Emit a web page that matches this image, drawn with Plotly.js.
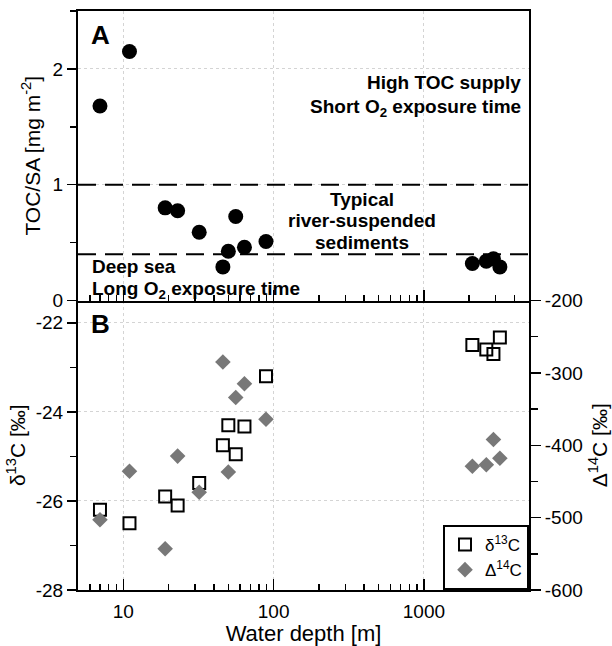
<!DOCTYPE html>
<html>
<head>
<meta charset="utf-8">
<script src="https://cdn.plot.ly/plotly-3.0.1.min.js"></script>
<style>html,body{margin:0;padding:0;background:#fff;}#chart{width:612px;height:646px;}</style>
</head>
<body>
<div id="chart"></div>
<script>
// Water depth [m] for each station
const depth = [7, 11, 19, 23, 32, 46, 50, 56, 64, 89, 2100, 2600, 2900, 3200];
// Panel A: TOC/SA [mg m-2]
const tocSA = [1.68, 2.15, 0.80, 0.775, 0.59, 0.29, 0.425, 0.725, 0.46, 0.51, 0.32, 0.34, 0.36, 0.29];
// Panel B: δ13C [‰] (left axis)
const d13C = [-26.2, -26.5, -25.9, -26.1, -25.6, -24.75, -24.3, -24.95, -24.33, -23.2, -22.5, -22.6, -22.7, -22.33];
// Panel B: Δ14C [‰] (right axis)
const D14C = [-503, -436, -543, -415, -465, -285, -437, -334, -315, -364, -429, -427, -392, -418];
// Reference TOC/SA levels (dashed lines)
const tocLevels = [1, 0.4];
// Tick labels
const xTickVals = [10, 100, 1000];
const xTickText = ['10', '100', '1000'];
const d13TickVals = [-28, -26, -24, -22];
const d13TickText = ['-28', '-26', '-24', '-22'];
const D14TickVals = [-600, -500, -400, -300, -200];
const D14TickText = ['-600', '-500', '-400', '-300', '-200'];
const decades = [1, 10, 100, 1000];
const digits = [2, 3, 4, 5, 6, 7, 8, 9];
const xMinor = [];
decades.forEach(d => digits.forEach(k => { const v = d * k; if (v > 5 && v < 5000 && v !== 10) xMinor.push(v); }));

const FONT = 'Liberation Sans, Arial, sans-serif';
const GRID = '#d4d4d4';

const traces = [
  { x: depth, y: tocSA, xaxis: 'x2', yaxis: 'y2', type: 'scatter', mode: 'markers',
    marker: { symbol: 'circle', size: 15, color: '#000' }, showlegend: false, cliponaxis: false },
  { x: depth, y: d13C, xaxis: 'x', yaxis: 'y', type: 'scatter', mode: 'markers', name: 'δ<sup>13</sup>C',
    marker: { symbol: 'square-open', size: 12, color: '#000', line: { width: 2, color: '#000' } } },
  { x: depth, y: D14C, xaxis: 'x', yaxis: 'y3', type: 'scatter', mode: 'markers', name: 'Δ<sup>14</sup>C',
    marker: { symbol: 'diamond', size: 12, color: '#787878' } }
];

const axisCommon = {
  showline: true, linecolor: '#000', linewidth: 2, tickcolor: '#000', tickwidth: 1.5,
  tickfont: { family: FONT, size: 19, color: '#000' }, zeroline: false
};
const xCommon = Object.assign({}, axisCommon, {
  type: 'log', range: [Math.log10(5), Math.log10(5000)],
  tickmode: 'array', tickvals: xTickVals, ticktext: xTickText,
  ticks: 'inside', ticklen: 11, showgrid: true, gridcolor: GRID, griddash: 'dot', gridwidth: 1,
  minor: { tickmode: 'array', tickvals: xMinor, ticks: 'inside', ticklen: 6, tickwidth: 1.5, tickcolor: '#000', showgrid: false }
});

const shapes = tocLevels.map(v => ({
  type: 'line', xref: 'x2 domain', yref: 'y2', x0: 0, x1: 1, y0: v, y1: v,
  line: { color: '#000', width: 2, dash: '18px,9px' }, layer: 'above'
}));

function ann(text, x, y, xanchor, size) {
  return { text: text, xref: 'paper', yref: 'paper', x: x, y: y, xanchor: xanchor, yanchor: 'middle',
    showarrow: false, align: xanchor === 'center' ? 'center' : xanchor,
    font: { family: FONT, size: size || 19, color: '#000', weight: 'bold' } };
}

const layout = {
  width: 612, height: 646,
  margin: { l: 78, r: 83, t: 11, b: 56 },
  paper_bgcolor: '#fff', plot_bgcolor: '#fff',
  font: { family: FONT, color: '#000' },
  showlegend: true,
  legend: { x: 1, y: 0, xanchor: 'right', yanchor: 'bottom', bgcolor: '#fff', bordercolor: '#000', borderwidth: 2,
    font: { family: FONT, size: 17, color: '#000' }, tracegroupgap: 0 },
  xaxis: Object.assign({}, xCommon, { anchor: 'y', ticklabelstandoff: 3,
    title: { text: 'Water depth [m]', font: { family: FONT, size: 22, color: '#000' } } }),
  xaxis2: Object.assign({}, xCommon, { anchor: 'y2', matches: 'x', showticklabels: false, mirror: true }),
  yaxis: Object.assign({}, axisCommon, { domain: [0, 0.5], range: [-28, -21.5], anchor: 'x',
    tickmode: 'array', tickvals: d13TickVals, ticktext: d13TickText, ticks: 'outside', ticklen: 9,
    showgrid: true, gridcolor: GRID, griddash: 'dot', gridwidth: 1,
    minor: { tickmode: 'linear', tick0: -27, dtick: 2, ticks: 'outside', ticklen: 6, tickwidth: 1.5, tickcolor: '#000', showgrid: false },
    title: { text: 'δ<sup>13</sup>C [‰]', font: { family: FONT, size: 21, color: '#000' } } }),
  yaxis2: Object.assign({}, axisCommon, { domain: [0.5, 1], range: [0, 2.5], anchor: 'x2', mirror: true,
    tickmode: 'linear', tick0: 0, dtick: 1, ticks: 'outside', ticklen: 9,
    showgrid: true, gridcolor: GRID, griddash: 'dot', gridwidth: 1, automargin: true,
    minor: { tickmode: 'linear', tick0: 0.5, dtick: 1, ticks: 'outside', ticklen: 6, tickwidth: 1.5, tickcolor: '#000', showgrid: false },
    title: { text: 'TOC/SA [mg m<sup>-2</sup>]', font: { family: FONT, size: 21, color: '#000' }, standoff: 6 } }),
  yaxis3: Object.assign({}, axisCommon, { overlaying: 'y', side: 'right', anchor: 'x', range: [-600, -200],
    tickmode: 'array', tickvals: D14TickVals, ticktext: D14TickText, ticks: 'outside', ticklen: 10, showgrid: false,
    minor: { tickmode: 'linear', tick0: -550, dtick: 100, ticks: 'outside', ticklen: 7, tickwidth: 1.5, tickcolor: '#000', showgrid: false },
    title: { text: 'Δ<sup>14</sup>C [‰]', font: { family: FONT, size: 21, color: '#000' } } }),
  shapes: shapes,
  annotations: [
    ann('A', 0.024, 0.958, 'left', 26),
    ann('B', 0.024, 0.460, 'left', 26),
    ann('High TOC supply', 0.987, 0.876, 'right'),
    ann('Short O<sub>2</sub> exposure time', 0.987, 0.832, 'right'),
    ann('Typical', 0.630, 0.675, 'center'),
    ann('river-suspended', 0.630, 0.639, 'center'),
    ann('sediments', 0.630, 0.601, 'center'),
    ann('Deep sea', 0.026, 0.558, 'left'),
    ann('Long O<sub>2</sub> exposure time', 0.026, 0.518, 'left')
  ]
};

Plotly.newPlot('chart', traces, layout, { displayModeBar: false, staticPlot: true });
</script>
</body>
</html>
